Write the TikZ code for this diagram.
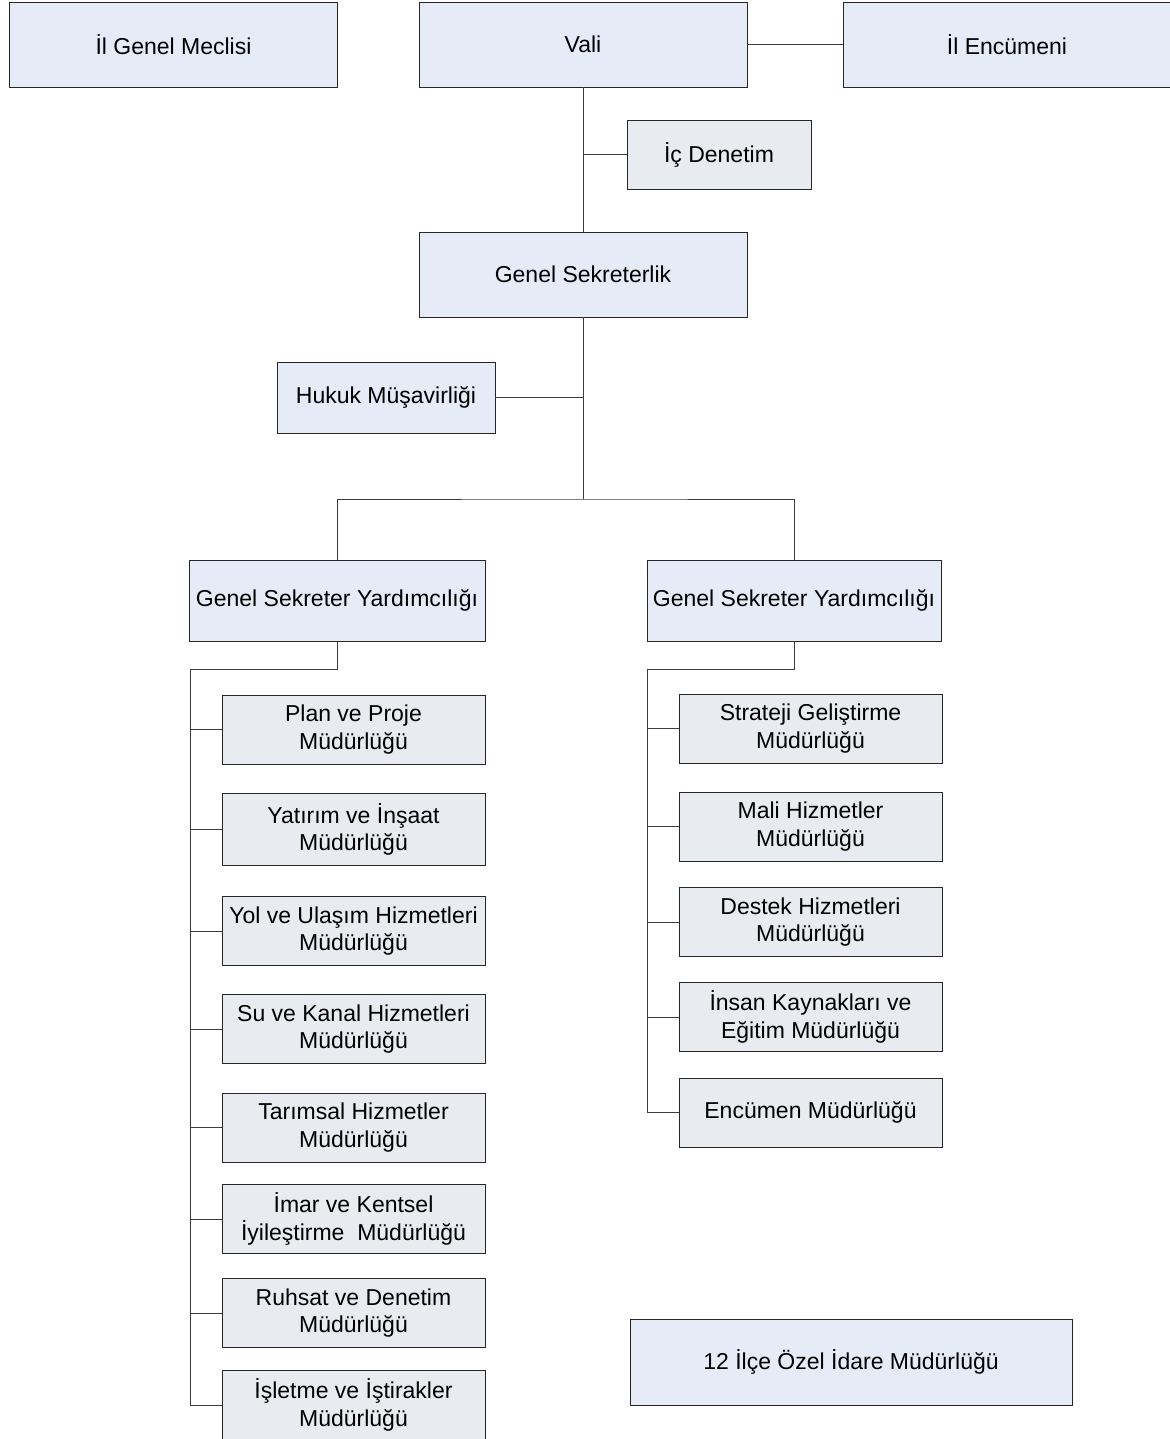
\documentclass[tikz,border=0pt]{standalone}
\usepackage{fontspec}
\setmainfont{Liberation Sans}
\usetikzlibrary{positioning}
\definecolor{mainFill}{RGB}{230,236,247}
\definecolor{subFill}{RGB}{232,235,240}
\definecolor{lineC}{RGB}{60,60,60}
\tikzstyle{bS}=[rectangle,draw=black!85,line width=0.9pt,fill=mainFill,minimum width=328pt,minimum height=85pt,inner sep=0pt,align=center,font=\fontsize{23}{27.5}\selectfont]
\tikzstyle{sS}=[bS,fill=subFill,minimum width=263pt,minimum height=69pt]
\tikzstyle{lS}=[draw=lineC,line width=1pt]
\begin{document}
\begin{tikzpicture}[x=1pt,y=-1pt]
    \useasboundingbox (0,0) rectangle (1169,1439);
    \draw (173.5,44.5) node[bS] (meclis) {İl Genel Meclisi};
    \draw (583,44.5) node[bS] (vali) {Vali};
    \draw (1007,44.5) node[bS] (encumen) {İl Encümeni};
    \draw (719,154.5) node[sS,minimum width=184pt] (icd) {İç Denetim};
    \draw (583,274.5) node[bS] (gs) {Genel Sekreterlik};
    \draw (386,397.5) node[bS,minimum width=218pt,minimum height=71pt] (hukuk) {Hukuk Müşavirliği};
    \draw (337,600.5) node[bS,minimum width=296pt,minimum height=81pt] (gsyL) {Genel Sekreter Yardımcılığı};
    \draw (794,600.5) node[bS,minimum width=294pt,minimum height=81pt] (gsyR) {Genel Sekreter Yardımcılığı};
    \draw (851,1362) node[bS,minimum width=442pt,minimum height=86pt] (ilce) {12 İlçe Özel İdare Müdürlüğü};
    % sol kol
    \draw (353.5,729.5) node[sS] (l1) {Plan ve Proje\\Müdürlüğü};
    \draw (353.5,829.5) node[sS,minimum height=72pt] (l2) {Yatırım ve İnşaat\\Müdürlüğü};
    \draw (353.5,931) node[sS] (l3) {Yol ve Ulaşım Hizmetleri\\Müdürlüğü};
    \draw (353.5,1029) node[sS] (l4) {Su ve Kanal Hizmetleri\\Müdürlüğü};
    \draw (353.5,1127.5) node[sS] (l5) {Tarımsal Hizmetler\\Müdürlüğü};
    \draw (353.5,1219) node[sS] (l6) {İmar ve Kentsel\\İyileştirme\ \ Müdürlüğü};
    \draw (353.5,1313) node[sS] (l7) {Ruhsat ve Denetim\\Müdürlüğü};
    \draw (353.5,1405) node[sS] (l8) {İşletme ve İştirakler\\Müdürlüğü};
    % sag kol
    \draw (810.5,728.5) node[sS] (r1) {Strateji Geliştirme\\Müdürlüğü};
    \draw (810.5,826.5) node[sS] (r2) {Mali Hizmetler\\Müdürlüğü};
    \draw (810.5,922) node[sS] (r3) {Destek Hizmetleri\\Müdürlüğü};
    \draw (810.5,1017) node[sS] (r4) {İnsan Kaynakları ve\\Eğitim Müdürlüğü};
    \draw (810.5,1112.5) node[sS] (r5) {Encümen Müdürlüğü};
    \coordinate (br) at (583,499);
    \coordinate (lt) at (190,669);
    \coordinate (rt) at (647,669);
    \path
        (vali) edge[lS] (encumen)
        (vali.south |- icd.west) edge[lS] (icd.west)
        (hukuk.east) edge[lS] (hukuk.east -| br)
    ;
    \draw[lS] (vali.south) -- (gs.north);
    \draw[lS] (gs.south) -- (br);
    \draw[lS] (gsyL.north) |- (br) -| (gsyR.north);
    \draw[lS] (gsyL.south) |- (lt) -- (lt |- l8.west);
    \draw[lS] (gsyR.south) |- (rt) -- (rt |- r5.west);
    \foreach \n in {l1,l2,l3,l4,l5,l6,l7,l8}
        \draw[lS] (lt |- \n.west) -- (\n.west);
    \foreach \n in {r1,r2,r3,r4,r5}
        \draw[lS] (rt |- \n.west) -- (\n.west);
\end{tikzpicture}
\end{document}
